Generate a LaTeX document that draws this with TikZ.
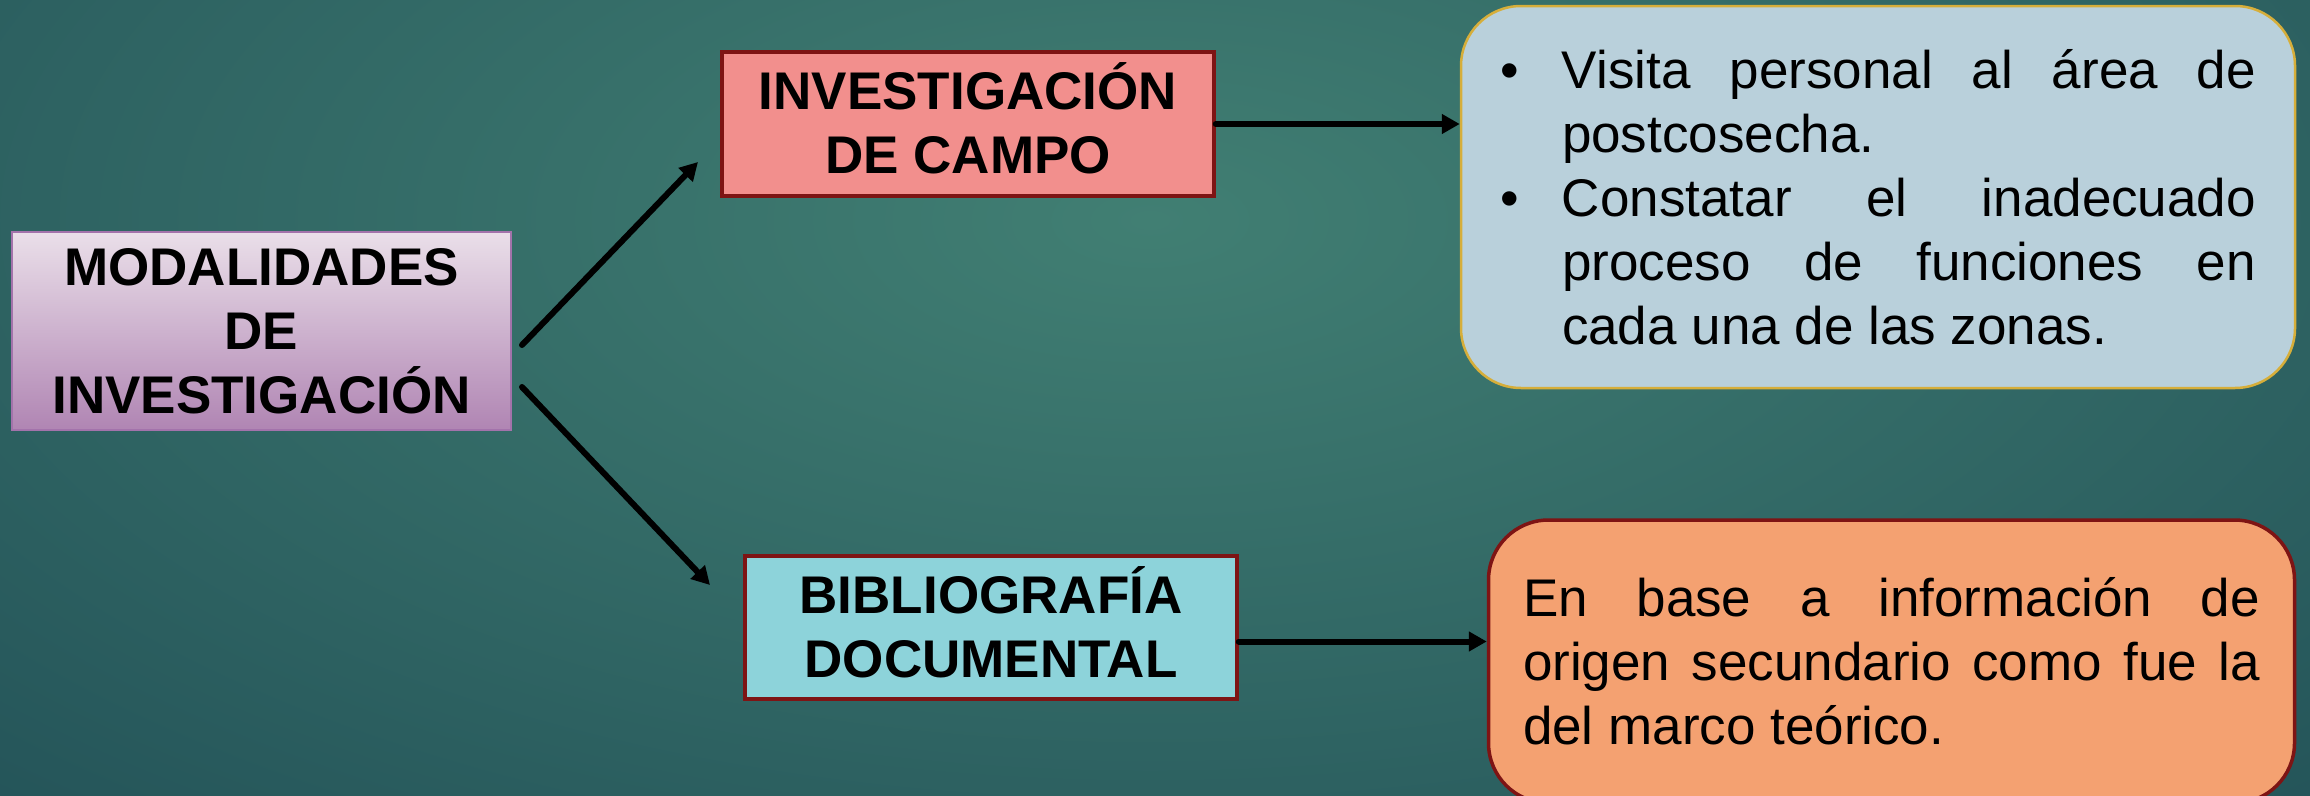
\documentclass[tikz,border=0pt]{standalone}
\usepackage{fontspec}
\setmainfont{Liberation Sans}
\usetikzlibrary{arrows.meta,shadings}
\definecolor{bgbase}{HTML}{1A4550}
\definecolor{bginner}{HTML}{417F73}
\definecolor{modtop}{HTML}{EADFE9}
\definecolor{modbot}{HTML}{B085B3}
\definecolor{modborder}{HTML}{A373AB}
\definecolor{campofill}{HTML}{F28F8D}
\definecolor{redborder}{HTML}{7E1414}
\definecolor{bibfill}{HTML}{8DD3DA}
\definecolor{visfill}{HTML}{B9D0DB}
\definecolor{visborder}{HTML}{D6AE3A}
\definecolor{basefill}{HTML}{F4A171}
\tikzset{
  lbl/.style={font=\bfseries\fontsize{53pt}{64pt}\selectfont, align=center, inner sep=0pt},
  sqbox/.style={lbl, draw=redborder, line width=3.5pt},
  txt/.style={font=\fontsize{53pt}{64pt}\selectfont, align=left, inner sep=0pt},
  conn/.style={line width=6pt, line cap=round, -{Triangle[length=18pt,width=19pt]}},
}
\newcommand{\bul}{\makebox[62pt][l]{•}}
\newcommand{\nob}{\hspace*{62pt}}
\begin{document}
\begin{tikzpicture}[x=1pt,y=-1pt]
\useasboundingbox (0,0) rectangle (2310,795);
\clip (0,0) rectangle (2310,795);
\fill[bgbase] (0,0) rectangle (2310,795);
\shade[inner color=bginner, outer color=bgbase] (1150,220) ellipse [x radius=2300pt, y radius=1100pt];

\node[lbl, minimum width=499pt, minimum height=198pt, top color=modtop, bottom color=modbot, draw=modborder, line width=2pt]
  (modal) at (261.5,331) {MODALIDADES\\DE\\INVESTIGACIÓN};
\node[sqbox, fill=campofill, minimum width=492pt, minimum height=144pt]
  (campo) at (968,124) {\smash{INVESTIGACIÓN}\vphantom{I}\\DE CAMPO};
\node[sqbox, fill=bibfill, minimum width=492pt, minimum height=143pt]
  (bib) at (991,627.5) {\smash{BIBLIOGRAFÍA}\vphantom{B}\\DOCUMENTAL};

\node[txt, fill=visfill, draw=visborder, line width=2.5pt, rounded corners=60pt,
      minimum width=834pt, minimum height=382pt]
  (visita) at (1878,197) {\bul\makebox[694pt][s]{Visita personal al área de}\\
  \nob\makebox[694pt][l]{postcosecha.}\\
  \bul\makebox[694pt][s]{Constatar el inadecuado}\\
  \nob\makebox[694pt][s]{proceso de funciones en}\\
  \nob\makebox[694pt][l]{cada una de las zonas.}};

\node[txt, fill=basefill, draw=redborder, line width=3.5pt, rounded corners=60pt,
      minimum width=806pt, minimum height=283pt]
  (base) at (1891.5,661.5) {\makebox[737pt][s]{En base a información de}\\
  \makebox[737pt][s]{origen secundario como fue la}\\
  \makebox[737pt][l]{del marco teórico.}};

\coordinate (d1s) at (522,345);
\coordinate (d1e) at (698,162);
\coordinate (d2s) at (522,387);
\coordinate (d2e) at (710,585);
\draw[conn] (d1s) -- (d1e);
\draw[conn] (d2s) -- (d2e);
\draw[conn] (campo.east) -- (campo.east -| visita.west);
\path ([yshift=-14pt]bib.east) coordinate (b1);
\draw[conn] (b1) -- (b1 -| base.west);
\end{tikzpicture}
\end{document}
